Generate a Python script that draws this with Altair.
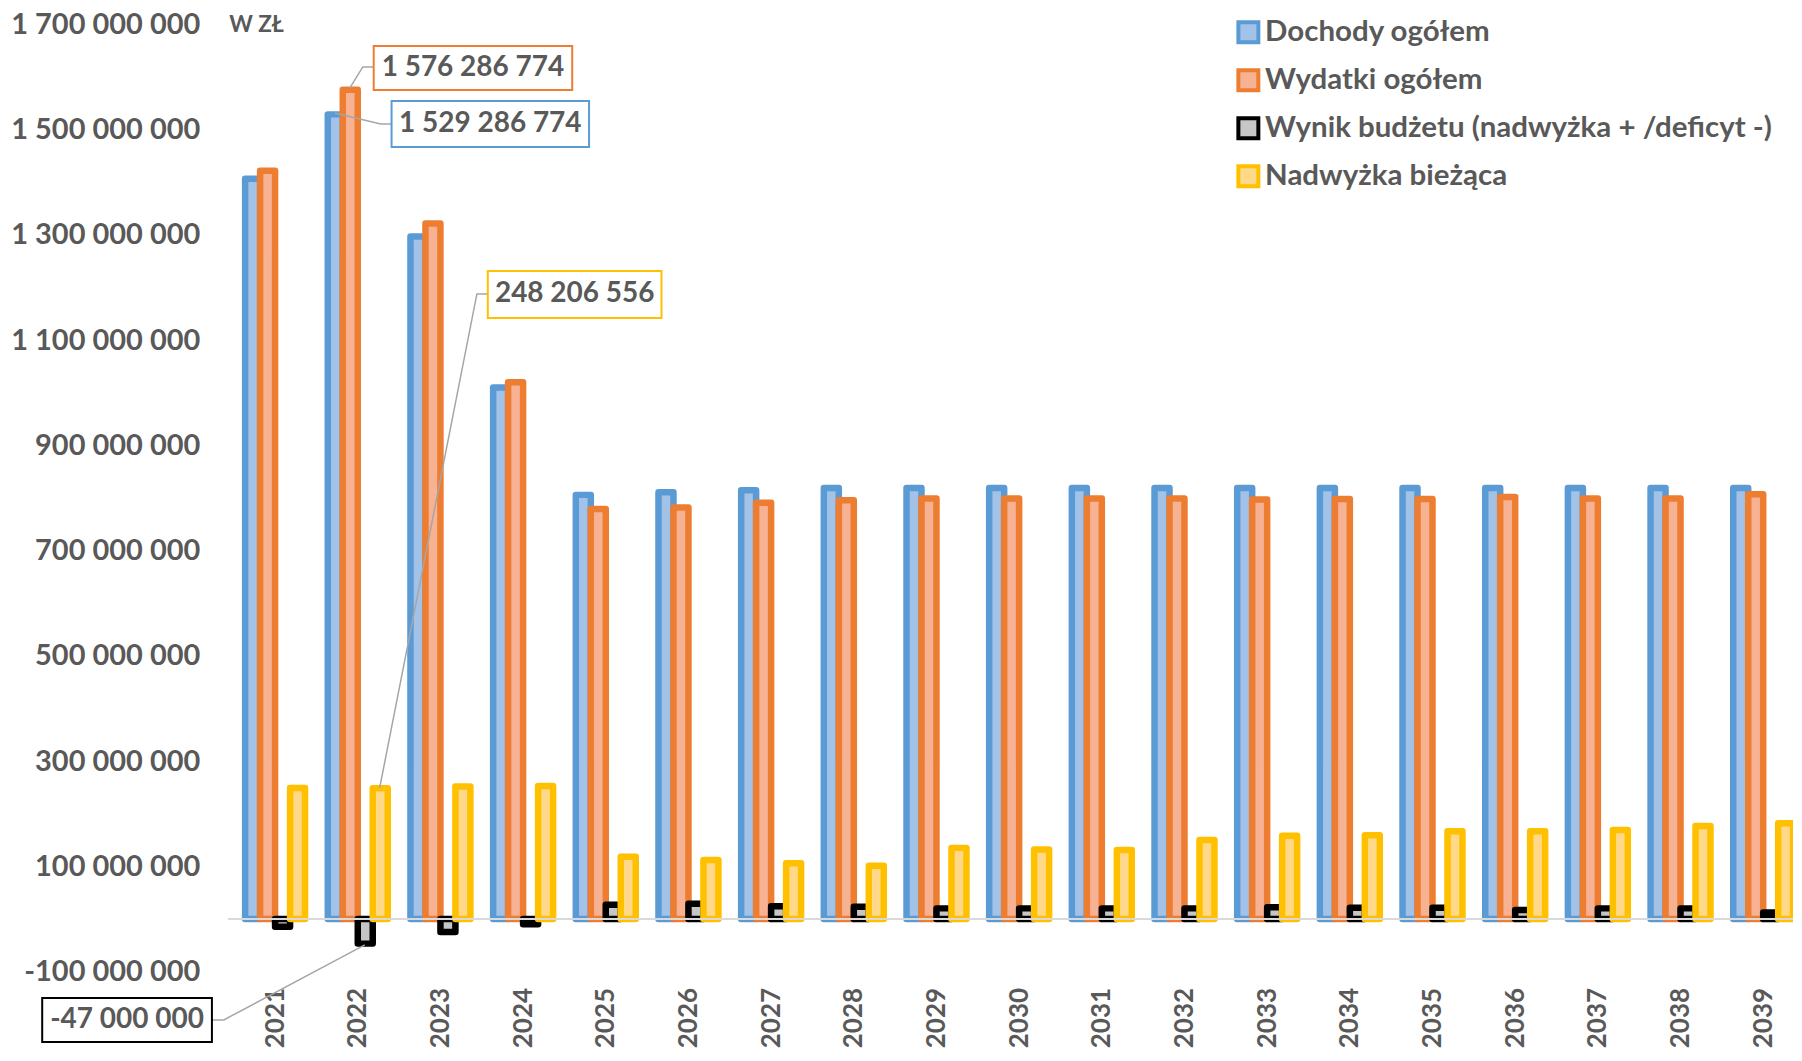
import altair as alt
import pandas as pd

# ---------------- data ----------------
years = list(range(2021, 2040))
series_names = ["Dochody ogółem", "Wydatki ogółem",
                "Wynik budżetu (nadwyżka + /deficyt -)", "Nadwyżka bieżąca"]

dochody = [1407e6, 1529286774, 1297e6, 1010e6, 806e6, 811e6, 815e6, 819e6, 819e6, 819e6,
           819e6, 819e6, 819e6, 819e6, 819e6, 819e6, 819e6, 819e6, 819e6]
wydatki = [1422e6, 1576286774, 1322e6, 1020e6, 779e6, 782e6, 791e6, 796e6, 799e6, 799e6,
           799e6, 799e6, 797e6, 798e6, 798e6, 802e6, 799e6, 799e6, 807e6]
wynik = [-15e6, -47000000, -25e6, -10e6, 27e6, 29e6, 24e6, 23e6, 20e6, 20e6,
         20e6, 20e6, 22e6, 21e6, 21e6, 17e6, 20e6, 20e6, 12e6]
nadwyzka = [249e6, 248206556, 251.6e6, 252.5e6, 118e6, 112e6, 106e6, 101e6, 135e6, 132e6,
            131e6, 150e6, 158e6, 159e6, 166.5e6, 166.5e6, 169e6, 176.6e6, 181.7e6]

y_ticks = [-100e6, 100e6, 300e6, 500e6, 700e6, 900e6, 1100e6, 1300e6, 1500e6, 1700e6]

# annotation boxes (data coordinates)
ann_text = ["1 576 286 774", "1 529 286 774", "248 206 556", "-47 000 000"]
ann_x = [2023.393, 2023.603, 2024.624, 2019.209]
ann_y = [1617.6e6, 1511.1e6, 1187.0e6, -192.0e6]
ann_x1 = [2022.193, 2022.409, 2023.573, 2018.183]
ann_x2 = [2024.594, 2024.798, 2025.674, 2020.236]
ann_y1 = [1659.4e6, 1554.8e6, 1231.7e6, -150.2e6]
ann_y2 = [1575.8e6, 1467.4e6, 1142.4e6, -233.8e6]
# leader lines (3 points each)
lead_x = [[2022.193, 2022.061, 2021.905], [2022.409, 2022.277, 2021.724],
          [2023.573, 2023.441, 2022.265], [2020.236, 2020.380, 2022.085]]
lead_y = [[1619.5e6, 1619.5e6, 1579.5e6], [1511.1e6, 1511.1e6, 1532.0e6],
          [1188.0e6, 1188.0e6, 249.0e6], [-192.0e6, -192.0e6, -49.4e6]]

# ---------------- styling ----------------
FONT = "Lato"
GRAY = "#595959"
stroke_cols = ["#5B9BD5", "#ED7D31", "#000000", "#FFC000"]
fill_cols = ["#A3C2E7", "#F7B193", "#C6C6C6", "#FFD88A"]
offsets = [-22.5, -7.5, 7.5, 22.5]

rows = []
for idx, (name, vals) in enumerate(zip(series_names, [dochody, wydatki, wynik, nadwyzka])):
    for yr, v in zip(years, vals):
        rows.append({"year": yr, "series": name, "sid": idx, "value": v})
df = pd.DataFrame(rows)

x_scale = alt.Scale(domain=[2020.5, 2039.3], nice=False, zero=False)
y_scale = alt.Scale(domain=[-100e6, 1700e6], nice=False, zero=False)

legend = alt.Legend(orient="none", legendX=1006, legendY=-7, title=None,
                    labelFont=FONT, labelFontSize=29.5, labelFontWeight="bold",
                    labelColor=GRAY, symbolType="square", symbolSize=400,
                    symbolStrokeWidth=4, rowPadding=11, labelOffset=2, padding=0,
                    labelLimit=700)

x_axis = alt.Axis(values=years, format="d", labelAngle=-90, labelFont=FONT,
                  labelFontSize=26, labelFontWeight="bold", labelColor=GRAY,
                  domain=False, ticks=False, grid=False, labelPadding=16,
                  labelFlush=False, title=None, labelOverlap=False)
y_axis = alt.Axis(values=y_ticks, labelFont=FONT, labelFontSize=29,
                  labelFontWeight="bold", labelColor=GRAY, domain=False,
                  ticks=False, grid=False, labelPadding=29, labelLimit=400,
                  labelExpr="replace(replace(replace(replace(format(datum.value, ','), ',', ' '), ',', ' '), ',', ' '), '\u2212', '-')",
                  title="W ZŁ", titleAngle=0, titleX=0, titleY=0, titleAlign="left",
                  titleBaseline="middle", titleFont=FONT, titleFontSize=22.5,
                  titleFontWeight="bold", titleColor=GRAY, labelOverlap=False)

base = alt.Chart(df)
layers = []
for i, name in enumerate(series_names):
    layer = base.transform_filter(alt.datum.sid == i).mark_bar(
        width=15, xOffset=offsets[i], strokeWidth=6.5, strokeJoin="round",
        clip=True
    ).encode(
        x=alt.X("year:Q", scale=x_scale, axis=x_axis),
        y=alt.Y("value:Q", scale=y_scale, axis=y_axis),
        fill=alt.Fill("series:N", scale=alt.Scale(domain=series_names, range=fill_cols), legend=legend),
        stroke=alt.Stroke("series:N", scale=alt.Scale(domain=series_names, range=stroke_cols), legend=legend),
    )
    layers.append(layer)

zero_rule = alt.Chart(df).mark_rule(color="#D9D9D9", strokeWidth=2).encode(
    y=alt.datum(0, scale=y_scale, axis=y_axis))
layers.append(zero_rule)

ann_stroke = ["#ED7D31", "#5B9BD5", "#FFC000", "#000000"]
for i in range(4):
    ldf = pd.DataFrame({"x": lead_x[i], "y": lead_y[i], "o": [0, 1, 2]})
    layers.append(alt.Chart(ldf).mark_line(color="#A6A6A6", strokeWidth=1.5).encode(
        x=alt.X("x:Q", scale=x_scale, axis=x_axis), y=alt.Y("y:Q", scale=y_scale, axis=y_axis), order="o:Q"))
    bdf = pd.DataFrame({"x1": [ann_x1[i]], "x2": [ann_x2[i]], "y1": [ann_y1[i]],
                        "y2": [ann_y2[i]], "tx": [ann_x[i]], "ty": [ann_y[i]],
                        "t": [ann_text[i]]})
    layers.append(alt.Chart(bdf).mark_rect(fill="white", stroke=ann_stroke[i], strokeWidth=2).encode(
        x=alt.X("x1:Q", scale=x_scale, axis=x_axis), x2="x2:Q",
        y=alt.Y("y1:Q", scale=y_scale, axis=y_axis), y2="y2:Q"))
    layers.append(alt.Chart(bdf).mark_text(font=FONT, fontSize=28, fontWeight="bold",
                                           color=GRAY, align="center", baseline="middle").encode(
        x=alt.X("tx:Q", scale=x_scale, axis=x_axis), y=alt.Y("ty:Q", scale=y_scale, axis=y_axis), text="t:N"))

chart = alt.layer(*layers).properties(
    width=1566, height=948,
    background="white",
    padding={"left": 2, "top": 2, "right": 0, "bottom": 0},
).configure_view(stroke=None)

chart.save("out.html", embed_options={"renderer": "svg", "actions": False})
